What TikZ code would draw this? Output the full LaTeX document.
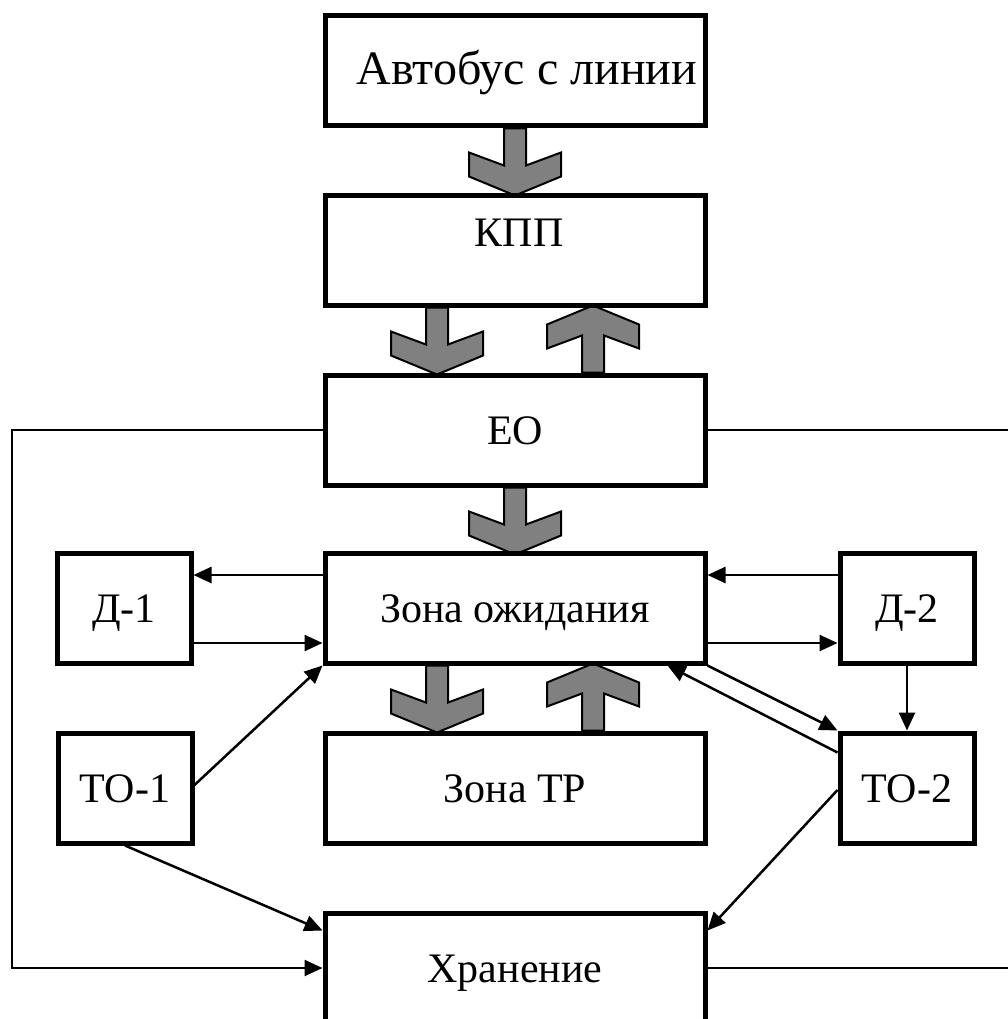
\documentclass[tikz,border=0pt]{standalone}
\usepackage{fontspec}
\setmainfont{Liberation Serif}
\usetikzlibrary{arrows.meta,calc,backgrounds}
\definecolor{arrowgray}{RGB}{128,128,128}
\begin{document}
\begin{tikzpicture}[x=1pt,y=-1pt,
  label font/.style={font=\fontsize{42}{48}\selectfont, text height=34pt, text depth=6pt, inner sep=0pt},
  box/.style={draw, line width=5pt, fill=white, inner sep=0pt,
    minimum width=380pt, minimum height=110pt, label font},
  smallbox/.style={box, minimum width=134pt},
  link/.style={line width=2.5pt, -{Triangle[length=18pt,width=16pt]}},
  plain/.style={line width=2.5pt},
  bigdown/.pic={\draw[line width=2pt, fill=arrowgray, line join=miter]
    (-11,0) -- (-11,37) -- (-46,24) -- (-46,48) -- (0,67) -- (46,48)
    -- (46,24) -- (11,37) -- (11,0) -- cycle;},
  bigup/.pic={\draw[line width=2pt, fill=arrowgray, line join=miter]
    (-11,0) -- (-11,-37) -- (-46,-24) -- (-46,-48) -- (0,-67) -- (46,-48)
    -- (46,-24) -- (11,-37) -- (11,0) -- cycle;}
]
\clip (0,0) rectangle (1008,1019);

% main column
\node[box] (bus)   at (515,71)  {};
\node[label font, font=\fontsize{48}{54}\selectfont] (bustext) at (527,71) {Автобус с линии};
\node[box] (kpp)   at (515,250) {};
\node[label font] (kpptext) at (519,232) {КПП};
\node[box] (eo)    at (515,430) {ЕО};
\node[box] (wait)  at (515,608) {Зона ожидания};
\node[box] (tr)    at (515,788) {Зона ТР};
\node[box] (store) at (515,968) {Хранение};

% side posts
\node[smallbox] (d1)  at (124,608) {Д-1};
\node[smallbox] (to1) at (125,788) {ТО-1};
\node[smallbox] (d2)  at (907,608) {Д-2};
\node[smallbox] (to2) at (907,788) {ТО-2};

% wide gray flow arrows between the main boxes
\begin{scope}[on background layer]
  \fill[white] (0,0) rectangle (1008,1019);
  \pic at (bus.south) {bigdown};
  \pic at ($(kpp.south)+(-78,0)$) {bigdown};
  \pic at ($(eo.north)+(78,0)$) {bigup};
  \pic at (eo.south) {bigdown};
  \pic at ($(wait.south)+(-78,0)$) {bigdown};
  \pic at ($(tr.north)+(78,0)$) {bigup};
\end{scope}

% diagnostics links
\draw[link] ([yshift=33pt]wait.west) -- ([yshift=33pt]d1.east);
\draw[link] ([yshift=-35pt]d1.east) -- ([yshift=-35pt]wait.west);
\draw[link] ([yshift=33pt]d2.west) -- ([yshift=33pt]wait.east);
\draw[link] ([yshift=-35pt]wait.east) -- ([yshift=-35pt]d2.west);
\draw[link] (d2.south) -- (to2.north);

% maintenance links
\draw[link] (wait.south east) -- (to2.north west);
\draw[link] ([yshift=-22pt]to2.north west) -- ([xshift=-40pt]wait.south east);
\draw[link] ([yshift=-2pt]to2.west) -- ([yshift=-20pt]store.north east);
\draw[link] ([yshift=3pt]to1.east) -- (wait.south west);
\draw[link] (to1.south) -- ([yshift=-20pt]store.north west);

% bypass lines around the column
\coordinate (lx) at (12,0);
\coordinate (rx) at (1015,0);
\draw[link] (eo.west) -- (eo.west -| lx) |- (store.west);
\draw[plain] (eo.east) -- (eo.east -| rx);
\draw[plain] (store.east) -- (store.east -| rx);
\end{tikzpicture}
\end{document}
